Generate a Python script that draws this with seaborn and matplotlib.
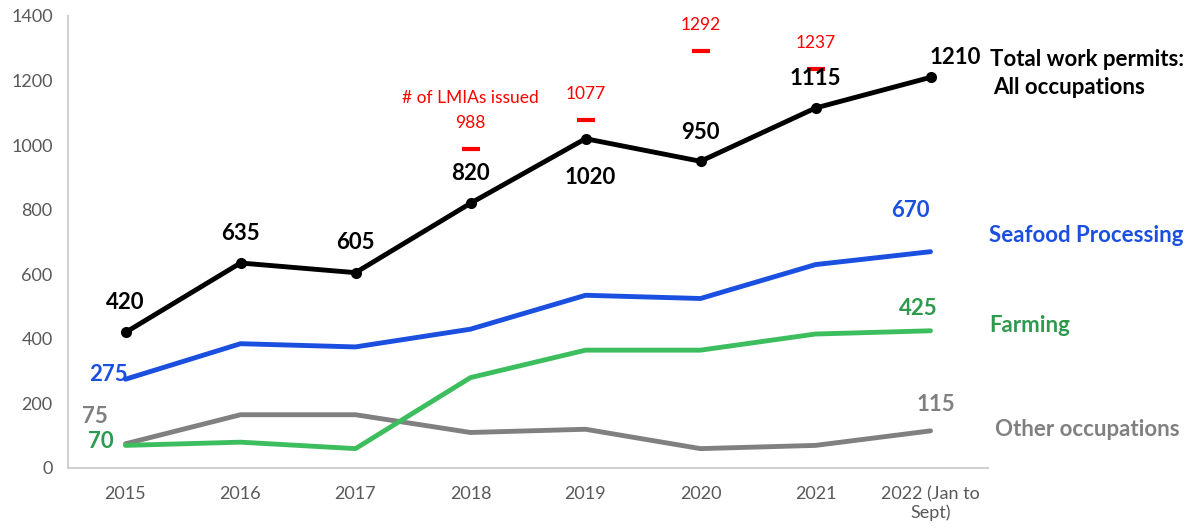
import matplotlib
matplotlib.use("Agg")
import matplotlib.pyplot as plt
import seaborn as sns
import pandas as pd

years = ["2015", "2016", "2017", "2018", "2019", "2020", "2021", "2022 (Jan to\nSept)"]
total = [420, 635, 605, 820, 1020, 950, 1115, 1210]
seafood = [275, 385, 375, 430, 535, 525, 630, 670]
farming = [70, 80, 60, 280, 365, 365, 415, 425]
other = [75, 165, 165, 110, 120, 60, 70, 115]
lmia_years = ["2018", "2019", "2020", "2021"]
lmia = [988, 1077, 1292, 1237]

sns.set_theme(style="white")
plt.rcParams['font.family'] = ['Lato', 'DejaVu Sans']

BLACK = "#000000"
BLUE = "#1A4FDF"
GREEN = "#3DBE5E"
GREEN_T = "#2E9A4E"
GRAY = "#808080"
RED = "#FF0000"

pos = list(range(len(years)))
df = pd.DataFrame({"x": pos * 4,
                   "v": total + seafood + farming + other,
                   "s": ["total"] * 8 + ["seafood"] * 8 + ["farming"] * 8 + ["other"] * 8})
lm = pd.DataFrame({"x": [years.index(y) for y in lmia_years], "v": lmia})

fig = plt.figure(figsize=(11.96, 5.31), dpi=100)
ax = fig.add_axes([68 / 1196, 63 / 531, 920 / 1196, 452 / 531])

sns.lineplot(data=df[df.s == "other"], x="x", y="v", color=GRAY, lw=3.5, ax=ax)
sns.lineplot(data=df[df.s == "farming"], x="x", y="v", color=GREEN, lw=3.5, ax=ax)
sns.lineplot(data=df[df.s == "seafood"], x="x", y="v", color=BLUE, lw=3.5, ax=ax)
sns.lineplot(data=df[df.s == "total"], x="x", y="v", color=BLACK, lw=3.5, ax=ax,
             marker="o", markersize=8, markeredgewidth=0)
sns.scatterplot(data=lm, x="x", y="v", marker="_", s=160, linewidth=3, color=RED, ax=ax)

ax.set_xlim(-0.5, 7.5)
ax.set_ylim(0, 1400)
ax.set_yticks(range(0, 1401, 200))
ax.set_xticks(pos)
ax.set_xticklabels(years, fontsize=13, color="#595959", linespacing=1.15)
ax.tick_params(axis="y", labelsize=13, labelcolor="#595959", length=0, pad=11)
ax.tick_params(axis="x", length=0, pad=13)
ax.set_xlabel("")
ax.set_ylabel("")
for s in ["top", "right"]:
    ax.spines[s].set_visible(False)
for s in ["left", "bottom"]:
    ax.spines[s].set_color("#D0D0D0")
    ax.spines[s].set_linewidth(1.5)

def lab(i, v, txt, dx, dy, color, size=16, ha="center", weight="bold"):
    ax.annotate(txt, (i, v), xytext=(dx, dy), textcoords="offset pixels",
                ha=ha, va="center", fontsize=size, color=color, fontweight=weight,
                annotation_clip=False)

# total labels
offs_total = [(0, 30), (0, 29), (0, 30), (0, 30), (5, -39), (0, 29), (0, 30), (25, 20)]
for i, (v, (dx, dy)) in enumerate(zip(total, offs_total)):
    lab(i, v, str(v), dx, dy, BLACK)

lab(0, seafood[0], str(seafood[0]), 2, 5, BLUE, ha="right")
lab(7, seafood[7], str(seafood[7]), -20, 41, BLUE)
lab(0, farming[0], str(farming[0]), -12, 4, GREEN_T, ha="right")
lab(7, farming[7], str(farming[7]), -12, 22, GREEN_T)
lab(0, other[0], str(other[0]), -18, 27, GRAY, ha="right")
lab(7, other[7], str(other[7]), 5, 26, GRAY)

# LMIA labels
for x, v in zip(lm.x, lm.v):
    lab(x, v, str(v), 0, 26, RED, size=12.5, weight="normal")
lab(lm.x.iloc[0], lmia[0], "# of LMIAs issued", 0, 51, RED, size=12.5, weight="normal")

# series names on the right
def side(txt, ypix, color, xpix=990):
    fig.text(xpix / 1196, 1 - ypix / 531, txt, ha="left", va="center",
             fontsize=16, fontweight="bold", color=color)

side("Total work permits:", 60, BLACK)
side("All occupations", 88, BLACK, 993)
side("Seafood Processing", 236, BLUE, 989)
side("Farming", 325, GREEN_T, 989)
side("Other occupations", 429, GRAY, 995)

fig.savefig("out.png", dpi=100)
